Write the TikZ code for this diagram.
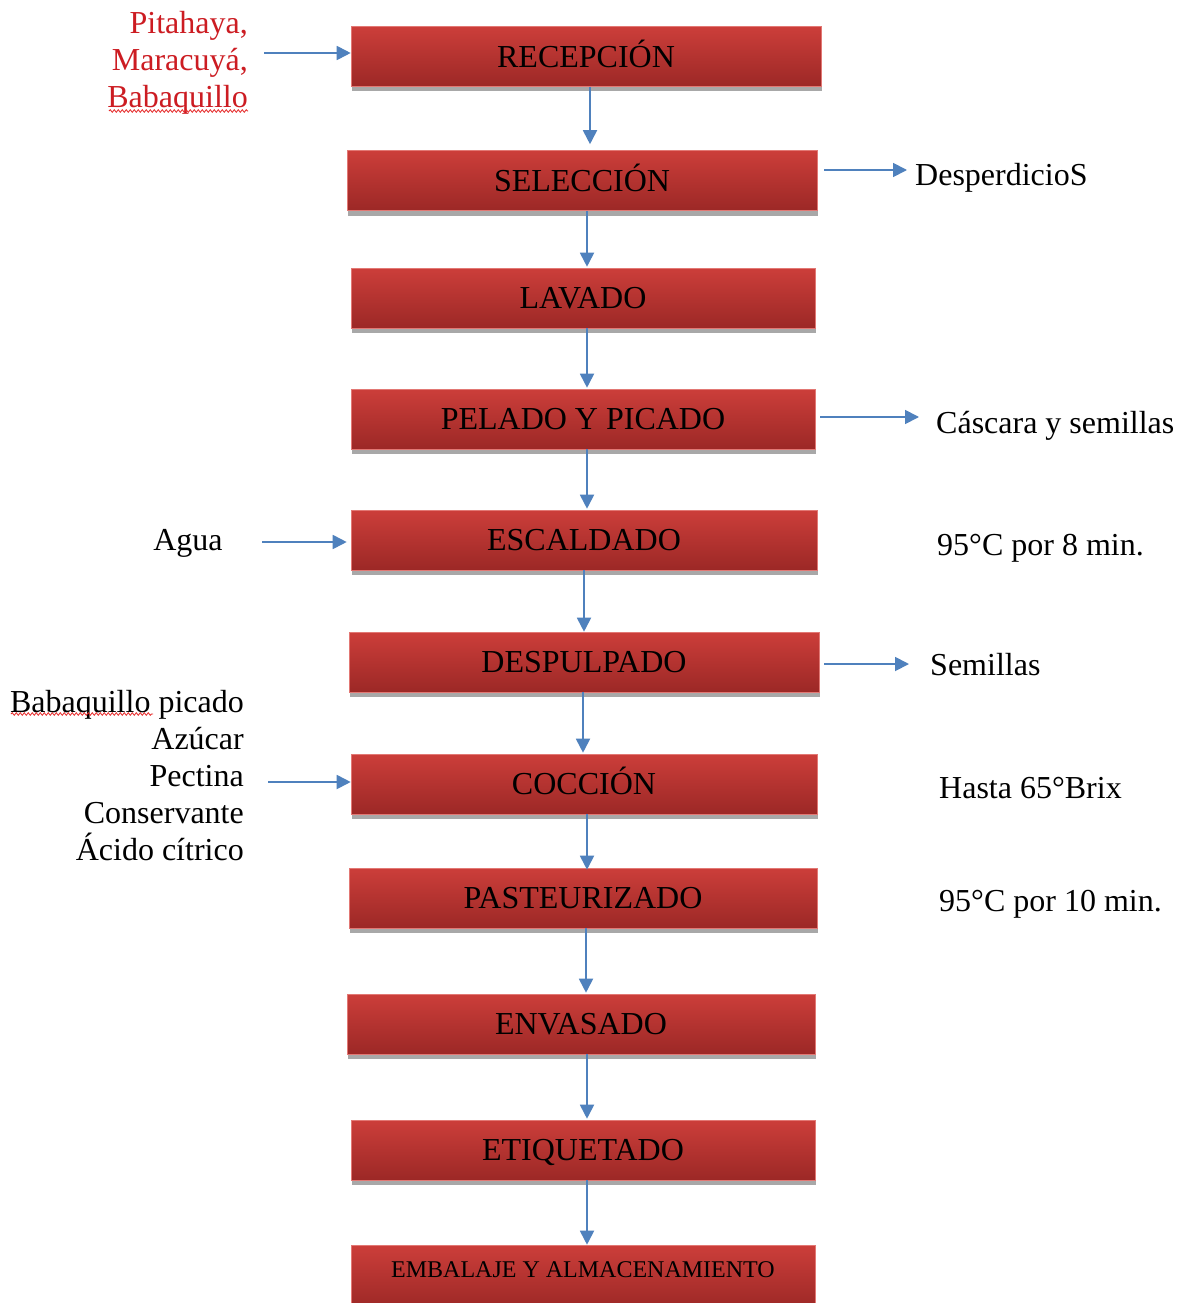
\documentclass[tikz,border=0pt]{standalone}
\usepackage{fontspec}
\setmainfont{Liberation Serif}
\usetikzlibrary{arrows.meta,shadows,decorations.pathmorphing}
\definecolor{boxtop}{RGB}{204,62,58}
\definecolor{boxbot}{RGB}{156,40,38}
\definecolor{boxedge}{RGB}{226,120,116}
\definecolor{flow}{RGB}{79,129,189}
\definecolor{shadowgray}{RGB}{168,168,168}
\definecolor{inred}{RGB}{204,28,34}
\definecolor{spellred}{RGB}{230,40,40}
\begin{document}
\begin{tikzpicture}[x=1pt,y=-1pt,
  stepbox/.style={rectangle, inner sep=0pt, minimum height=60pt,
    top color=boxtop, middle color=boxtop, bottom color=boxbot,
    draw=boxedge, line width=0.6pt,
    general shadow={fill=shadowgray, draw=none, shadow yshift=-5pt, shadow xshift=1pt},
    font=\fontsize{32}{38}\selectfont, text height=21.5pt, text depth=0pt},
  sidetext/.style={inner sep=0pt, font=\fontsize{32}{37}\selectfont},
  arr/.style={draw=flow, line width=1.8pt, -{Triangle[length=14pt,width=14pt,fill=flow]}},
  spell/.style={draw=spellred, line width=0.8pt,
    decorate, decoration={snake, amplitude=1.3pt, segment length=4pt}}
]
\clip (0,0) rectangle (1183,1303);
\fill[white] (0,0) rectangle (1183,1303);

% process steps
\node[stepbox, minimum width=470pt] (b1)  at (586,56.5) {RECEPCIÓN};
\node[stepbox, minimum width=470pt] (b2)  at (582,180.5) {SELECCIÓN};
\node[stepbox, minimum width=464pt] (b3)  at (583,298) {LAVADO};
\node[stepbox, minimum width=464pt] (b4)  at (583,419) {PELADO Y PICADO};
\node[stepbox, minimum width=466pt] (b5)  at (584,540) {ESCALDADO};
\node[stepbox, minimum width=470pt] (b6)  at (584,662) {DESPULPADO};
\node[stepbox, minimum width=466pt] (b7)  at (584,784) {COCCIÓN};
\node[stepbox, minimum width=468pt] (b8)  at (583,898) {PASTEURIZADO};
\node[stepbox, minimum width=468pt] (b9)  at (581,1024) {ENVASADO};
\node[stepbox, minimum width=464pt] (b10) at (583,1150) {ETIQUETADO};
\node[stepbox, minimum width=464pt, minimum height=64pt, font=\fontsize{24}{29}\selectfont,
      text height=16pt, text depth=0pt] (b11) at (583,1277)
      {\raisebox{8pt}{EMBALAJE Y ALMACENAMIENTO}};

% main flow
\draw[arr] ([xshift=4pt]b1.south)  -- ([xshift=4pt,yshift=6pt]b1.south |- b2.north);
\draw[arr] ([xshift=5pt]b2.south)  -- ([xshift=5pt,yshift=1pt]b2.south |- b3.north);
\draw[arr] ([xshift=4pt]b3.south)  -- ([xshift=4pt,yshift=1pt]b3.south |- b4.north);
\draw[arr] ([xshift=4pt]b4.south)  -- ([xshift=4pt,yshift=1pt]b4.south |- b5.north);
\draw[arr] ([xshift=0pt]b5.south)  -- ([xshift=0pt]b5.south |- b6.north);
\draw[arr] ([xshift=-1pt]b6.south) -- ([xshift=-1pt,yshift=1pt]b6.south |- b7.north);
\draw[arr] ([xshift=3pt]b7.south)  -- ([xshift=3pt,yshift=-2pt]b7.south |- b8.north);
\draw[arr] ([xshift=3pt]b8.south)  -- ([xshift=3pt,yshift=1pt]b8.south |- b9.north);
\draw[arr] ([xshift=6pt]b9.south)  -- ([xshift=6pt,yshift=1pt]b9.south |- b10.north);
\draw[arr] ([xshift=4pt]b10.south) -- ([xshift=4pt]b10.south |- b11.north);

% inputs
\node[sidetext, text=inred, anchor=east, align=right] (fruit) at (248,63)
  {Pitahaya,\\Maracuyá,\\Babaquillo};
\draw[spell] (109,111) -- (248,111);
\coordinate (fin) at (264,53);
\draw[arr] (fin) -- (fin -| b1.west);

\node[sidetext, anchor=center] (agua) at (188,543) {Agua};
\coordinate (ain) at (262,542);
\draw[arr] (ain) -- ([xshift=-4pt]ain -| b5.west);

\node[sidetext, anchor=east, align=right] (ingr) at (244,776)
  {Babaquillo picado\\Azúcar\\Pectina\\Conservante\\Ácido cítrico};
\draw[spell] (11,714) -- (153,714);
\coordinate (iin) at (268,782);
\draw[arr] (iin) -- (iin -| b7.west);

% outputs
\node[sidetext, anchor=west] (desp) at (915,178) {DesperdicioS};
\coordinate (dout) at (824,170);
\draw[arr] (dout) -- ([xshift=-8pt]dout -| desp.west);

\node[sidetext, anchor=west] (casc) at (936,426) {Cáscara y semillas};
\coordinate (cout) at (820,417);
\draw[arr] (cout) -- ([xshift=-17pt]cout -| casc.west);

\node[sidetext, anchor=west] (semi) at (930,665) {Semillas};
\coordinate (sout) at (824,664);
\draw[arr] (sout) -- ([xshift=-21pt]sout -| semi.west);

% process conditions
\node[sidetext, anchor=west] (cond1) at (937,548) {95°C por 8 min.};
\node[sidetext, anchor=west] (cond2) at (939,788) {Hasta 65°Brix};
\node[sidetext, anchor=west] (cond3) at (939,904) {95°C por 10 min.};
\end{tikzpicture}
\end{document}
